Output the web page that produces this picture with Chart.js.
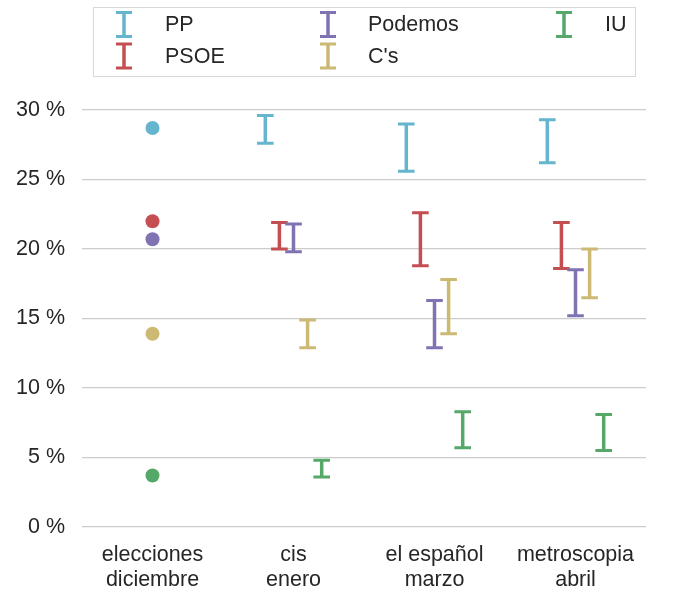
<!DOCTYPE html>
<html><head><meta charset="utf-8">
<script src="https://cdn.jsdelivr.net/npm/chart.js@4/dist/chart.umd.min.js"></script>
<style>html,body{margin:0;padding:0;background:#fff}#wrap{width:680px;height:600px;position:relative}</style>
</head><body><div id="wrap"><canvas id="c" width="680" height="600"></canvas></div>
<script>
// ---- data ----
const categories = [['elecciones','diciembre'],['cis','enero'],['el español','marzo'],['metroscopia','abril']];
const parties = ['PP','PSOE','Podemos',"C's",'IU'];
const colors = ['#64b5cd','#c44e52','#8172b2','#ccb974','#55a868'];
// election result (elecciones diciembre), one value per party
const electionPP = 28.7, electionPSOE = 22.0, electionPodemos = 20.7, electionCs = 13.9, electionIU = 3.7;
// poll ranges [low, high] per category (first category has no range)
const rangePP      = [null, [27.6, 29.6], [25.6, 29.0], [26.2, 29.3]];
const rangePSOE    = [null, [20.0, 21.9], [18.8, 22.6], [18.6, 21.9]];
const rangePodemos = [null, [19.8, 21.8], [12.9, 16.3], [15.2, 18.5]];
const rangeCs      = [null, [12.9, 14.9], [13.9, 17.8], [16.5, 20.0]];
const rangeIU      = [null, [3.6, 4.8],   [5.7, 8.3],   [5.5, 8.1]];
const yTicks = [0, 5, 10, 15, 20, 25, 30];

const elections = [electionPP, electionPSOE, electionPodemos, electionCs, electionIU];
const ranges = [rangePP, rangePSOE, rangePodemos, rangeCs, rangeIU];

const FONT = '"Liberation Sans", Arial, sans-serif';
const TXT = '#262626';

const datasets = [];
parties.forEach((p, i) => {
  datasets.push({
    type: 'bar', label: p, data: ranges[i],
    backgroundColor: 'rgba(0,0,0,0)', borderWidth: 0,
    categoryPercentage: 0.5, barPercentage: 1.0,
    errColor: colors[i], isRange: true
  });
});
parties.forEach((p, i) => {
  datasets.push({
    type: 'line', label: p + ' elecciones',
    data: [elections[i], null, null, null],
    showLine: false, pointRadius: 7, pointHoverRadius: 7,
    pointBackgroundColor: colors[i], pointBorderWidth: 0,
    borderColor: colors[i]
  });
});

const errorBars = {
  id: 'errorBars',
  afterDatasetsDraw(chart) {
    const ctx = chart.ctx;
    chart.data.datasets.forEach((ds, di) => {
      if (!ds.isRange) return;
      const meta = chart.getDatasetMeta(di);
      meta.data.forEach((el, j) => {
        if (!ds.data[j]) return;
        const x = el.x, top = Math.min(el.y, el.base), bot = Math.max(el.y, el.base);
        ctx.save();
        ctx.strokeStyle = ds.errColor;
        ctx.lineCap = 'butt';
        ctx.lineWidth = 3.5;
        ctx.beginPath(); ctx.moveTo(x, top); ctx.lineTo(x, bot); ctx.stroke();
        ctx.lineWidth = 3;
        ctx.beginPath();
        ctx.moveTo(x - 8.3, top); ctx.lineTo(x + 8.3, top);
        ctx.moveTo(x - 8.3, bot); ctx.lineTo(x + 8.3, bot);
        ctx.stroke();
        ctx.restore();
      });
    });
  }
};

const customLegend = {
  id: 'customLegend',
  afterDraw(chart) {
    const ctx = chart.ctx;
    ctx.save();
    ctx.strokeStyle = '#d8d8d8';
    ctx.lineWidth = 1;
    ctx.strokeRect(93.5, 7.5, 542, 69);
    const symX = [124, 328, 564], txtX = [165, 368, 605], rowY = [24.5, 56];
    ctx.font = '21.5px ' + FONT;
    ctx.textBaseline = 'middle';
    ctx.textAlign = 'left';
    parties.forEach((p, i) => {
      const col = Math.floor(i / 2), row = i % 2;
      const sx = symX[col], sy = rowY[row];
      ctx.strokeStyle = colors[i];
      ctx.lineWidth = 3.5;
      ctx.beginPath(); ctx.moveTo(sx, sy - 12); ctx.lineTo(sx, sy + 12); ctx.stroke();
      ctx.lineWidth = 3;
      ctx.beginPath();
      ctx.moveTo(sx - 8, sy - 12); ctx.lineTo(sx + 8, sy - 12);
      ctx.moveTo(sx - 8, sy + 12); ctx.lineTo(sx + 8, sy + 12);
      ctx.stroke();
      ctx.fillStyle = TXT;
      ctx.fillText(p, txtX[col], sy + 1);
    });
    ctx.restore();
  }
};

new Chart(document.getElementById('c'), {
  data: { labels: categories, datasets },
  options: {
    responsive: false, animation: false,
    layout: { padding: { top: 110, right: 34, left: 0, bottom: 0 } },
    plugins: { legend: { display: false }, tooltip: { enabled: false } },
    scales: {
      x: {
        type: 'category', offset: true,
        grid: { display: false, drawTicks: false },
        border: { display: false },
        ticks: { color: TXT, font: { family: FONT, size: 21.5, lineHeight: 1.15 }, padding: 16, maxRotation: 0, autoSkip: false },
        afterFit: s => { s.height = 73; }
      },
      y: {
        min: 0, max: 30,
        afterBuildTicks: s => { s.ticks = yTicks.map(v => ({ value: v })); },
        grid: { color: '#cccccc', lineWidth: 1.3, drawTicks: false },
        border: { display: false },
        ticks: { color: TXT, font: { family: FONT, size: 21.5 }, padding: 17, callback: v => v + ' %' },
        afterFit: s => { s.width = 82; }
      }
    }
  },
  plugins: [errorBars, customLegend]
});
</script>
</body></html>
